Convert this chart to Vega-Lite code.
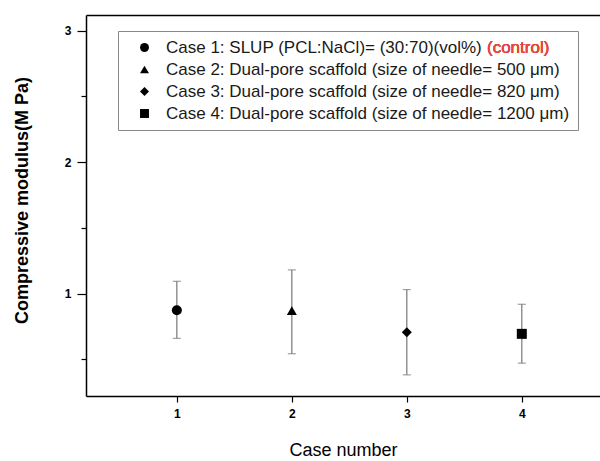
{
  "$schema": "https://vega.github.io/schema/vega-lite/v6.json",
  "width": 514,
  "height": 381,
  "autosize": "none",
  "padding": {"left": 86, "top": 15, "right": 0, "bottom": 65},
  "background": "white",
  "config": {
    "view": {"stroke": null},
    "font": "Liberation Sans",
    "axis": {"grid": false, "domainColor": "black", "domainWidth": 1.5, "tickColor": "black", "tickWidth": 1.2, "labelColor": "black", "titleColor": "black", "labelFont": "Liberation Sans", "titleFont": "Liberation Sans"}
  },
  "data": {
    "values": [
      {"case": 1, "label": "Case 1: SLUP (PCL:NaCl)= (30:70)(vol%)", "mean": 0.873, "lo": 0.659, "hi": 1.093},
      {"case": 2, "label": "Case 2: Dual-pore scaffold (size of needle= 500 μm)", "mean": 0.87, "lo": 0.542, "hi": 1.18},
      {"case": 3, "label": "Case 3: Dual-pore scaffold (size of needle= 820 μm)", "mean": 0.706, "lo": 0.381, "hi": 1.03},
      {"case": 4, "label": "Case 4: Dual-pore scaffold (size of needle= 1200 μm)", "mean": 0.693, "lo": 0.47, "hi": 0.918}
    ]
  },
  "resolve": {"axis": {"x": "independent", "y": "independent"}},
  "layer": [
    {
      "mark": {"type": "rule", "color": "#777777", "strokeWidth": 1.2},
      "encoding": {
        "x": {"field": "case", "type": "quantitative", "scale": {"domain": [0.21, 4.68], "nice": false, "zero": false},
          "axis": {"values": [1, 2, 3, 4], "title": "Case number", "titleFontSize": 18, "titleFontWeight": "normal", "titlePadding": 22, "labelFontSize": 12, "labelFontWeight": "bold", "tickSize": 6, "labelPadding": 6}},
        "y": {"field": "lo", "type": "quantitative", "scale": {"domain": [0.22, 3.12], "nice": false, "zero": false},
          "axis": {"values": [0.5, 1, 1.5, 2, 2.5, 3], "labelExpr": "datum.value % 1 === 0 ? format(datum.value, 'd') : ''", "tickSize": {"condition": {"test": "datum.value % 1 !== 0", "value": 5}, "value": 9}, "labelFontSize": 12, "labelFontWeight": "bold", "labelPadding": 6, "title": "Compressive modulus(M Pa)", "titleFontSize": 18, "titleFontWeight": "bold", "titlePadding": 33, "titleY": 185}},
        "y2": {"field": "hi"}
      }
    },
    {
      "mark": {"type": "tick", "orient": "horizontal", "color": "#777777", "size": 8, "thickness": 1.2},
      "encoding": {
        "x": {"field": "case", "type": "quantitative", "axis": null},
        "y": {"field": "lo", "type": "quantitative", "axis": null}
      }
    },
    {
      "mark": {"type": "tick", "orient": "horizontal", "color": "#777777", "size": 8, "thickness": 1.2},
      "encoding": {
        "x": {"field": "case", "type": "quantitative", "axis": {"orient": "top", "labels": false, "ticks": false, "title": null, "domain": true}},
        "y": {"field": "hi", "type": "quantitative", "axis": null}
      }
    },
    {
      "mark": {"type": "point", "filled": true, "opacity": 1, "color": "black", "size": 100},
      "encoding": {
        "x": {"field": "case", "type": "quantitative", "axis": null},
        "y": {"field": "mean", "type": "quantitative", "axis": null},
        "shape": {"field": "label", "type": "nominal",
          "scale": {"domain": ["Case 1: SLUP (PCL:NaCl)= (30:70)(vol%)", "Case 2: Dual-pore scaffold (size of needle= 500 μm)", "Case 3: Dual-pore scaffold (size of needle= 820 μm)", "Case 4: Dual-pore scaffold (size of needle= 1200 μm)"], "range": ["circle", "triangle-up", "diamond", "square"]},
          "legend": {"title": null, "orient": "none", "legendX": 32, "legendY": 16, "padding": 8, "strokeColor": "#888888", "labelFontSize": 17, "labelColor": "#1a1a1a", "labelFont": "Liberation Sans", "symbolSize": 80, "symbolOffset": 10, "symbolFillColor": "black", "symbolStrokeColor": "black", "symbolStrokeWidth": 0, "rowPadding": 4, "labelOffset": 13, "labelLimit": 600}}
      }
    },
    {
      "mark": {"type": "text", "text": "(control)", "color": "#e8453c", "fontSize": 17, "fontWeight": "normal", "font": "Liberation Sans", "align": "left", "baseline": "middle"},
      "encoding": {
        "x": {"datum": 3.697, "type": "quantitative", "axis": null},
        "y": {"datum": 2.866, "type": "quantitative", "axis": null}
      }
    }
  ]
}
